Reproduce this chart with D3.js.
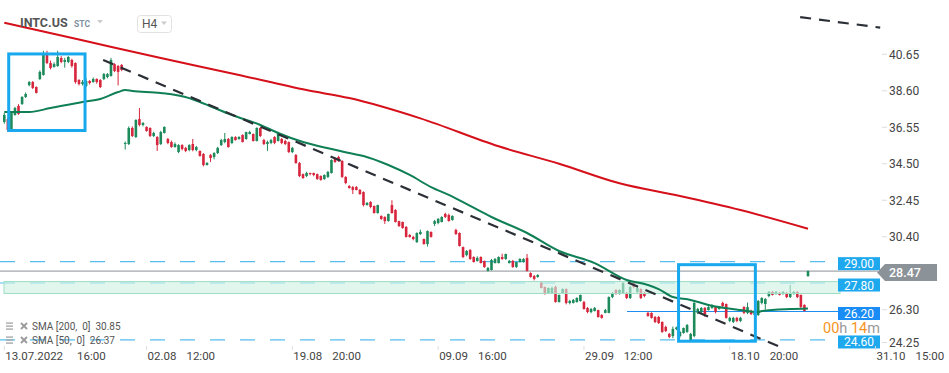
<!DOCTYPE html>
<html>
<head>
<meta charset="utf-8">
<script src="https://cdn.jsdelivr.net/npm/d3@7"></script>
<style>
  body { margin: 0; background: #fff; }
  svg { display: block; font-family: Roboto, "Noto Sans", sans-serif; }
</style>
</head>
<body>
<svg id="chart" width="949" height="373"></svg>
<script>
// INTC.US H4 candles, [open, high, low, close]
const candles = [
  [36.85,37.35,36.75,37.24],[37.01,37.10,36.30,36.40],[36.40,37.40,36.35,37.35],[37.24,37.70,37.20,37.63],
  [37.75,37.85,37.25,37.30],[37.86,38.30,37.80,38.25],[38.25,38.50,38.20,38.42],[38.92,39.15,38.85,39.09],
  [39.09,39.15,38.70,38.76],[38.81,38.85,38.45,38.48],[39.26,39.75,39.20,39.66],[39.49,40.85,39.45,40.61],
  [40.61,40.85,40.10,40.16],[40.16,40.30,39.80,39.88],[39.94,40.20,39.90,40.10],[39.99,40.85,39.95,40.50],
  [40.44,40.55,40.15,40.22],[40.22,40.45,39.90,40.33],[40.22,40.55,40.15,40.50],[40.33,40.40,39.90,39.99],
  [40.16,40.20,39.00,39.09],[39.21,39.25,38.90,38.98],[38.98,39.20,38.90,39.09],[38.87,39.30,38.80,39.15],
  [39.15,39.20,38.95,39.04],[39.09,39.35,39.05,39.26],[39.26,39.30,39.00,39.09],[39.21,39.25,38.75,38.81],
  [39.26,39.60,39.20,39.54],[39.37,39.60,39.30,39.54],[39.43,40.45,39.40,40.33],[40.10,40.15,39.65,39.71],
  [39.99,40.05,38.90,39.66],[40.05,40.10,39.70,39.77],
  [35.61,35.75,35.30,35.67],[35.61,36.60,35.55,36.51],[36.51,36.60,36.00,36.06],[36.00,37.00,35.95,36.96],
  [37.01,37.63,36.60,36.68],[36.68,36.85,36.60,36.79],[36.57,36.60,36.30,36.34],[36.51,36.55,36.00,36.06],
  [36.06,36.30,36.00,36.23],[36.00,36.05,35.22,35.55],[35.61,36.35,35.55,36.28],[36.23,36.60,36.20,36.57],
  [35.89,35.95,35.60,35.67],[35.72,35.80,35.40,35.44],[35.44,35.70,35.40,35.61],[35.16,35.60,35.10,35.55],
  [35.55,35.60,35.25,35.33],[35.39,35.45,35.15,35.22],[35.27,35.60,35.20,35.55],[35.61,35.89,35.20,35.27],
  [35.27,35.50,35.20,35.44],[35.22,35.25,34.90,34.94],[35.05,35.10,34.35,34.43],[34.43,34.60,34.40,34.54],
  [34.99,35.05,34.60,34.82],[34.88,35.15,34.75,35.10],[35.10,35.45,35.05,35.39],[35.55,35.90,35.50,35.83],
  [35.72,36.23,35.65,35.89],[35.89,35.95,35.40,35.44],[35.67,36.05,35.60,36.00],[36.00,36.05,35.80,35.83],
  [35.89,36.05,35.85,36.00],[36.12,36.15,35.70,35.72],[35.89,36.30,35.85,36.28],[36.17,36.35,36.15,36.28],
  [36.17,36.20,35.75,35.78],[35.78,36.55,35.75,36.51],[36.51,36.55,36.00,36.06],[35.83,35.90,35.55,35.61],
  [35.61,35.80,35.22,35.72],[35.67,35.90,35.60,35.83],[36.00,36.05,35.60,35.67],[35.78,36.30,35.75,36.23],
  [35.89,35.95,35.60,35.67],[35.78,35.85,35.55,35.61],[35.72,35.75,35.10,35.16],[35.16,35.45,35.10,35.39],
  [34.99,35.05,34.50,34.54],[34.54,34.60,33.75,33.81],[33.92,33.95,33.65,33.70],[33.81,34.05,33.75,33.98],
  [33.98,34.00,33.85,33.92],[33.98,34.00,33.80,33.87],[33.92,33.95,33.60,33.64],[33.81,33.85,33.55,33.59],
  [33.64,33.90,33.60,33.87],[33.76,34.10,33.70,34.04],[33.98,34.75,33.95,34.71],[34.77,34.80,34.55,34.60],
  [34.88,34.95,34.60,34.66],[34.66,34.70,33.70,33.76],[33.76,33.80,33.35,33.42],
  [33.25,33.30,33.10,33.14],[33.19,33.25,32.80,33.03],[33.19,33.25,33.00,33.03],[33.03,33.08,32.75,32.80],
  [32.91,32.95,32.10,32.18],[32.18,32.35,32.15,32.30],[32.35,32.40,32.00,32.07],[32.13,32.15,31.70,31.73],
  [31.73,32.20,31.70,32.18],[31.57,31.60,31.35,31.40],[31.51,31.55,31.12,31.28],[31.28,31.70,31.25,31.68],
  [32.18,32.45,31.70,31.73],[31.90,31.95,31.20,31.23],[31.28,31.30,30.95,31.00],[31.23,31.25,30.85,30.89],
  [30.95,31.00,30.35,30.39],[30.50,30.55,30.35,30.39],[30.39,30.45,30.20,30.27],[30.10,30.65,30.05,30.61],
  [30.55,30.80,30.50,30.67],[30.27,30.30,29.95,29.99],[29.99,30.75,29.85,30.72],[30.67,30.70,30.35,30.39],
  [31.12,31.35,31.00,31.28],[31.17,31.45,31.10,31.40],[31.23,31.55,31.20,31.51],[31.68,31.75,31.45,31.51],
  [31.62,31.70,31.25,31.28],[31.34,31.60,31.30,31.57],[30.78,30.85,30.50,30.55],[30.61,30.65,29.85,29.88],
  [29.82,29.85,29.20,29.26],[29.37,29.65,29.30,29.60],[29.66,29.70,29.10,29.15],[29.26,29.30,28.95,28.98],
  [29.04,29.30,29.00,29.21],[29.26,29.30,28.90,28.92],[29.04,29.06,28.65,28.70],[28.48,28.70,28.45,28.64],
  [28.53,29.15,28.50,29.09],[28.92,29.20,28.90,29.15],[28.92,29.30,28.90,29.26],[29.26,29.45,29.10,29.15],
  [29.15,29.45,29.10,29.43],[28.92,29.10,28.90,29.04],[29.04,29.10,28.65,28.70],[28.70,29.00,28.65,28.98],
  [28.98,29.20,28.95,29.15],[28.98,29.20,28.95,29.15],[29.21,29.43,28.45,28.48],[28.36,28.40,28.10,28.14],
  [28.19,28.25,27.95,28.03],[28.14,28.30,28.10,28.25],[27.80,27.85,27.50,27.52],[27.58,27.60,27.15,27.18],
  [27.24,27.55,27.20,27.52],[27.24,27.60,27.20,27.52],[27.58,27.65,26.70,26.73],[26.73,27.15,26.70,27.13],
  [27.24,27.50,27.20,27.46],[27.46,27.50,26.60,26.68],[26.68,26.85,26.60,26.79],[26.68,26.90,26.65,26.85],
  [26.73,27.00,26.70,26.96],[26.79,27.15,26.75,27.13],[26.73,26.80,26.30,26.34],[26.40,26.45,26.10,26.17],
  [26.17,26.40,26.10,26.34],[26.23,26.45,26.20,26.40],[26.28,26.30,25.85,25.89],[26.00,26.05,25.80,25.84],
  [26.12,26.35,26.10,26.28],[26.12,27.05,26.10,27.01],[27.01,27.30,26.95,27.24],[27.41,27.45,27.15,27.18],
  [27.18,27.45,27.15,27.41],[27.24,27.85,27.20,27.80],[27.24,27.30,26.90,26.96],[26.96,27.65,26.90,27.58],
  [27.80,27.85,27.50,27.58],[27.30,27.60,27.25,27.52],[27.46,27.50,26.90,26.96],[27.24,27.30,27.00,27.07],
  [26.12,26.20,25.90,25.95],[26.12,26.15,25.80,25.84],[25.89,25.95,25.55,25.61],[25.89,25.95,25.50,25.55],
  [25.61,25.65,25.00,25.05],[25.33,25.40,25.05,25.10],[24.94,25.00,24.70,24.77],[24.82,25.35,24.70,25.22],
  [25.22,25.35,25.15,25.30],[24.82,25.10,24.75,25.05],[24.99,25.30,24.95,25.27],[25.05,25.50,25.00,25.44],
  [24.60,25.00,24.55,24.94],[24.82,26.75,24.75,26.68],[26.12,26.40,26.05,26.34],[26.17,26.45,26.10,26.40],
  [26.40,26.45,25.90,26.06],[26.28,26.50,26.25,26.45],[26.40,26.60,26.35,26.57],[26.45,26.50,26.10,26.17],
  [26.34,26.50,26.30,26.45],[26.68,26.75,26.45,26.51],[26.62,26.65,25.80,25.84],[25.67,25.90,25.60,25.84],
  [25.61,25.90,25.55,25.84],[25.84,25.90,25.60,25.67],[25.67,25.90,25.60,25.84],[26.45,26.50,26.05,26.12],
  [26.12,26.70,26.05,26.45],[26.23,26.30,26.00,26.06],[26.00,26.20,25.95,26.17],[26.00,26.85,25.95,26.79],
  [26.68,27.00,26.60,26.96],[26.62,26.95,26.30,26.90],[27.07,27.35,27.00,27.30],[27.30,27.35,27.10,27.13],
  [27.18,27.35,27.15,27.30],[27.24,27.30,27.10,27.13],[27.18,27.35,27.15,27.30],[27.24,27.30,26.95,27.01],
  [27.01,27.70,26.95,27.24],[27.18,27.35,27.15,27.30],[27.30,27.35,26.95,27.01],[27.13,27.15,26.40,26.45],
  [26.57,26.60,26.20,26.23],[28.19,28.50,28.15,28.47]
];

// moving averages: candle index / value
const sma50Idx = [0, 7, 13, 22, 27, 32, 34, 36, 44, 52, 55, 64, 72, 77, 84, 92, 97, 101, 108, 114, 120, 125, 131, 137, 147, 156, 166, 175, 181, 184, 188, 193, 198, 207, 212, 213, 221, 226];
const sma50Val = [37.41, 37.41, 37.63, 37.97, 38.14, 38.53, 38.64, 38.59, 38.48, 38.19, 37.97, 37.24, 36.68, 36.23, 35.72, 35.33, 35.10, 34.94, 34.43, 33.87, 33.19, 32.75, 32.13, 31.51, 30.61, 29.60, 28.92, 27.97, 27.69, 27.46, 27.01, 26.85, 26.57, 26.28, 26.17, 26.23, 26.34, 26.37];
const sma200Idx = [0, 21, 44, 66, 85, 97, 117, 139, 156, 173, 190, 207, 226];
const sma200Val = [42.42, 41.48, 40.44, 39.49, 38.64, 38.19, 37.05, 35.48, 34.50, 33.40, 32.69, 31.90, 30.85];

// drawn trend lines [[index, price], [index, price]]
const trendLines = [
  [[27.8, 40.33], [218.1, 24.21]],
  [[223.8, 42.74], [246.3, 42.15]]
];
// highlight boxes [index from, index to, price top, price bottom]
const boxes = [[1.24, 22.7, 40.67, 36.37], [189.6, 211.2, 28.83, 24.53]];

const dashedLevels = [29.00, 27.80, 24.60];
const supportLevel = 26.20, supportFrom = 175.1;
const zoneLevels = [27.88, 27.21];
const lastPrice = 28.47;

const yTicks = [40.65, 38.60, 36.55, 34.50, 32.45, 30.40, 26.30, 24.25];
const xTickIdx = [0, 40, 81, 122, 163, 204, 245];
const xTickDate = ["13.07.2022", "02.08", "19.08", "09.09", "29.09", "18.10", "31.10"];
const xTickTime = ["16:00", "12:00", "20:00", "16:00", "12:00", "20:00", "15:00"];

const legendRows = [
  { label: "SMA [200,\u00a0\u00a00]\u00a0\u00a030.85" },
  { label: "SMA [50,\u00a0\u00a00]\u00a0\u00a026.37" }
];

const svg = d3.select("#chart");
const x = d3.scaleLinear().domain([0, candles.length - 1]).range([4.3, 808]);
const y = d3.scaleLinear().domain([24.25, 40.65]).range([346.2, 54.3]);
const tagX = 838, tagW = 42;
const green = "#1c8a5b", red = "#d7263d";

// horizontal levels
svg.append("g").selectAll("line").data(dashedLevels).join("line")
    .attr("x1", 0).attr("x2", tagX)
    .attr("y1", d => y(d)).attr("y2", d => y(d))
    .attr("stroke", "#55bdf0").attr("stroke-width", 1.2)
    .attr("stroke-dasharray", "15,15");
svg.append("line")
    .attr("x1", 0).attr("x2", 878)
    .attr("y1", y(lastPrice)).attr("y2", y(lastPrice))
    .attr("stroke", "#8a9096").attr("stroke-width", 1);
svg.append("line")
    .attr("x1", x(supportFrom)).attr("x2", tagX)
    .attr("y1", y(supportLevel)).attr("y2", y(supportLevel))
    .attr("stroke", "#1f8ef1").attr("stroke-width", 1.2);

// candles
const cg = svg.append("g");
const candle = cg.selectAll("g").data(candles).join("g");
candle.append("line")
    .attr("x1", (d, i) => x(i)).attr("x2", (d, i) => x(i))
    .attr("y1", d => y(d[1])).attr("y2", d => y(d[2]))
    .attr("stroke", d => d[3] >= d[0] ? green : red).attr("stroke-width", 1);
candle.append("rect")
    .attr("x", (d, i) => x(i) - 1.3).attr("width", 2.6)
    .attr("y", d => y(Math.max(d[0], d[3])))
    .attr("height", d => Math.max(1, Math.abs(y(d[0]) - y(d[3]))))
    .attr("fill", d => d[3] >= d[0] ? green : red);

// zone
svg.append("rect")
    .attr("x", 4).attr("width", tagX + 2 - 4)
    .attr("y", y(zoneLevels[0])).attr("height", y(zoneLevels[1]) - y(zoneLevels[0]))
    .attr("fill", "rgba(205,242,226,0.6)")
    .attr("stroke", "#9fdec4").attr("stroke-width", 1);

// moving averages
const smaLine = d3.line().x(d => x(d[0])).y(d => y(d[1])).curve(d3.curveMonotoneX);
svg.append("path").datum(sma200Idx.map((d, i) => [d, sma200Val[i]]))
    .attr("d", smaLine).attr("fill", "none").attr("stroke", "#d5101a").attr("stroke-width", 2);
svg.append("path").datum(sma50Idx.map((d, i) => [d, sma50Val[i]]))
    .attr("d", smaLine).attr("fill", "none").attr("stroke", "#0f7f55").attr("stroke-width", 2);

// trend lines
svg.append("g").selectAll("line").data(trendLines).join("line")
    .attr("x1", d => x(d[0][0])).attr("y1", d => y(d[0][1]))
    .attr("x2", d => x(d[1][0])).attr("y2", d => y(d[1][1]))
    .attr("stroke", "#2b2f36").attr("stroke-width", 2.2)
    .attr("stroke-dasharray", "11,8");

// boxes
svg.append("g").selectAll("rect").data(boxes).join("rect")
    .attr("x", d => x(d[0])).attr("width", d => x(d[1]) - x(d[0]))
    .attr("y", d => y(d[2])).attr("height", d => y(d[3]) - y(d[2]))
    .attr("fill", "none").attr("stroke", "#17a8ee").attr("stroke-width", 3);

// price tags
const tags = dashedLevels.map(v => ({ v, fill: "#1ea9ef" })).concat([{ v: supportLevel, fill: "#1a8cf5" }]);
const tag = svg.append("g").selectAll("g").data(tags).join("g")
    .attr("transform", d => `translate(${tagX}, ${y(d.v) + 2})`);
tag.append("rect").attr("x", 0).attr("y", -6.5).attr("width", tagW).attr("height", 13).attr("fill", d => d.fill);
tag.append("text").attr("x", tagW / 2).attr("y", 4.5).attr("text-anchor", "middle")
    .attr("fill", "#fff").style("font-size", "12px").text(d => d.v.toFixed(2));

const ly = y(lastPrice) + 1.3;
svg.append("path")
    .attr("d", `M877,${ly} L885,${ly - 8.5} L937,${ly - 8.5} L937,${ly + 8.5} L885,${ly + 8.5} Z`)
    .attr("fill", "#8b9298");
svg.append("text").attr("x", 889).attr("y", ly + 4.5)
    .attr("fill", "#fff").style("font-size", "12.5px").style("font-weight", "500")
    .text(lastPrice.toFixed(2));

// y axis
const yAxis = svg.append("g").selectAll("g").data(yTicks).join("g")
    .attr("transform", d => `translate(0, ${Math.min(y(d), 342.5)})`);
yAxis.append("line").attr("x1", 882).attr("x2", 887).attr("stroke", "#ddd");
yAxis.append("text").attr("x", 889).attr("y", 4.3)
    .attr("fill", "#444").style("font-size", "12px").text(d => d.toFixed(2));

// countdown
const cd = svg.append("text").attr("x", 823).attr("y", 333).style("font-size", "14.5px");
cd.append("tspan").attr("fill", "#f7941d").text("00");
cd.append("tspan").attr("fill", "#9a9a9a").text("h ");
cd.append("tspan").attr("fill", "#f7941d").text("14");
cd.append("tspan").attr("fill", "#9a9a9a").text("m");

// x axis
const xAxis = svg.append("g").selectAll("g").data(xTickIdx).join("g")
    .attr("transform", d => `translate(${x(d)}, 0)`);
xAxis.append("line").attr("x1", 0).attr("x2", 0).attr("y1", 346).attr("y2", 350).attr("stroke", "#ddd");
xAxis.append("text").attr("class", "xdate").attr("x", 1).attr("y", 360)
    .attr("fill", "#444").style("font-size", "11.5px").text((d, i) => xTickDate[i]);
xAxis.append("text").attr("x", function(d, i) {
        return 1 + this.parentNode.querySelector(".xdate").getComputedTextLength() + (i === 0 ? 14 : 10);
    }).attr("y", 360)
    .attr("fill", "#444").style("font-size", "11.5px").text((d, i) => xTickTime[i]);

// legend
const legend = svg.append("g").selectAll("g").data(legendRows).join("g")
    .attr("transform", (d, i) => `translate(6, ${326 + i * 14})`);
legend.each(function() {
    const g = d3.select(this);
    [-3, 0, 3].forEach(o => g.append("rect").attr("x", 0).attr("y", o - 0.6).attr("width", 7).attr("height", 1.4).attr("fill", "#aaa"));
    g.append("path").attr("d", "M15,-3 L21,3 M21,-3 L15,3").attr("stroke", "#9a9a9a").attr("stroke-width", 1.8);
});
legend.append("text").attr("x", 26).attr("y", 4).attr("fill", "#555")
    .style("font-size", "10px").text(d => d.label);

// header
svg.append("text").attr("x", 20).attr("y", 27).attr("fill", "#555")
    .style("font-size", "12.5px").style("font-weight", "bold").text("INTC.US");
svg.append("text").attr("x", 74).attr("y", 27).attr("fill", "#7d8fa0")
    .style("font-size", "8.5px").style("font-weight", "bold").text("STC");
svg.append("path").attr("d", "M97,20 L103,20 L100,23.5 Z").attr("fill", "#ccc");
svg.append("rect").attr("x", 137.5).attr("y", 15.5).attr("width", 34).attr("height", 17).attr("rx", 3)
    .attr("fill", "#fff").attr("stroke", "#e2e2e2");
svg.append("text").attr("x", 142).attr("y", 28).attr("fill", "#555").style("font-size", "12px").text("H4");
svg.append("path").attr("d", "M161,21.5 L167,21.5 L164,25 Z").attr("fill", "#ccc");
</script>
</body>
</html>
